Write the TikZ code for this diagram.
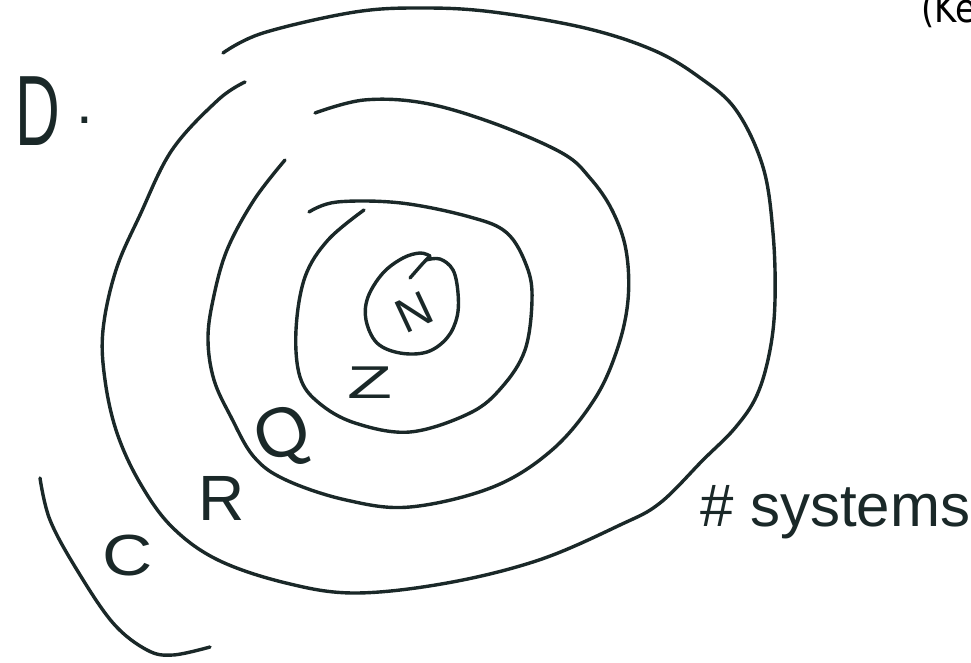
\documentclass[tikz,border=0pt]{standalone}
\usepackage{fontspec}
\newfontfamily\hand{Liberation Sans}
\newfontfamily\dv{DejaVu Sans}
\definecolor{ink}{RGB}{26,40,40}
\begin{document}
\begin{tikzpicture}[x=1pt,y=-1pt,
  curve/.style={draw=ink,line width=3.4pt,line cap=round,line join=round},
  lbl/.style={text=ink,inner sep=0pt,font=\hand}]
\clip (0,0) rectangle (971,663);
\fill[white] (0,0) rectangle (971,663);
% outer curve (R)
\draw[curve] plot[smooth,tension=0.6] coordinates {(245,82) (218,100) (172,150) (140,215) (116,270) (103,330) (105,380) (117,433) (140,483) (172,527) (218,560) (286,583) (355,593) (447,583) (539,560) (620,525) (660,503) (703,460) (735,428) (757,395) (770,350) (775,300) (773,233) (763,167) (736,110) (699,77) (653,50) (585,28) (493,12) (424,8) (355,12) (263,33) (223,53)};
% middle curve (Q)
\draw[curve] plot[smooth,tension=0.6] coordinates {(285,160) (254,200) (227,250) (213,300) (208,340) (214,380) (231,417) (254,457) (286,480) (346,500) (410,507) (493,487) (552,450) (594,400) (617,350) (628,300) (626,250) (612,210) (590,178) (562,153) (493,123) (424,103) (364,100) (315,113)};
% inner curve (Z)
\draw[curve] plot[smooth,tension=0.6] coordinates {(364,210) (328,240) (305,277) (296,330) (300,377) (319,403) (355,423) (410,432) (470,413) (502,387) (525,350) (532,300) (527,267) (507,233) (470,217) (401,203) (337,202) (309,212)};
% N oval
\draw[curve] plot[smooth,tension=0.6] coordinates {(426,260) (440,259) (453,270) (458,293) (457,317) (447,338) (427,352) (400,353) (377,343) (366,320) (368,297) (383,273) (403,258) (420,253) (430,256)};
\draw[curve] (430,256) .. controls (424,262) .. (410,278);
% C bracket
\draw[curve] plot[smooth,tension=0.6] coordinates {(40,478) (50,520) (77,570) (113,623) (147,650) (173,655) (210,647)};
% labels
\node[lbl,font=\hand\fontsize{48}{50}\selectfont,rotate=25] (nN) at (414,312) {N};
\node[lbl,font=\hand\fontsize{46}{50}\selectfont,xscale=1.6] (nZ) at (370,383) {Z};
\node[lbl,font=\hand\fontsize{70}{74}\selectfont,rotate=20] (nQ) at (284,438) {Q};
\node[lbl,font=\hand\fontsize{64}{68}\selectfont] (nR) at (222,498) {R};
\node[lbl,font=\hand\fontsize{58}{62}\selectfont,xscale=1.2] (nC) at (128,556) {C};
\node[lbl,font=\hand\fontsize{100}{104}\selectfont,xscale=0.62] (nD) at (38,111) {D};
\node[lbl,font=\hand\fontsize{60}{64}\selectfont,anchor=base] (ndot) at (85,124) {.};
\node[lbl,font=\hand\fontsize{60}{64}\selectfont,anchor=base west] (nsys) at (700,526) {\# systems};
\node[lbl,font=\dv\fontsize{40}{44}\selectfont,anchor=base west,text=black,xscale=0.85] (nke) at (921,23) {(Ke};
\end{tikzpicture}
\end{document}
